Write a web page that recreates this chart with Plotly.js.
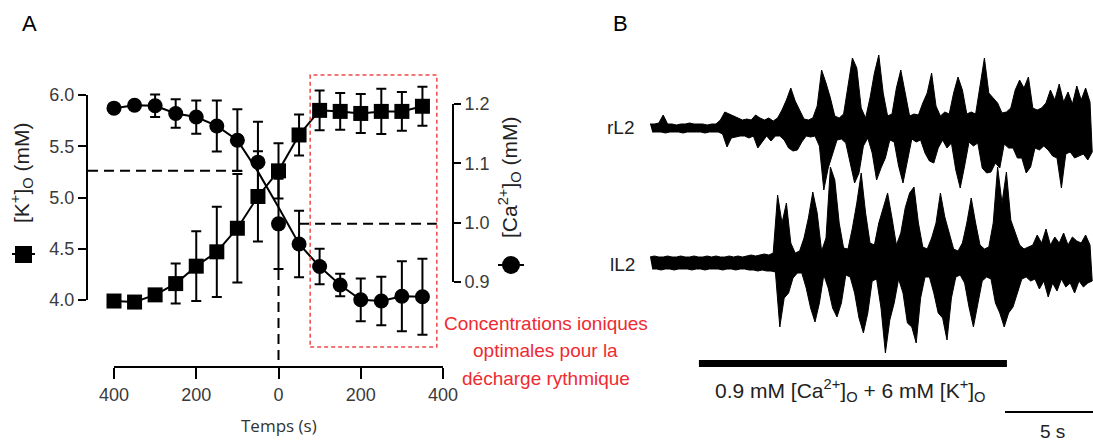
<!DOCTYPE html>
<html>
<head>
<meta charset="utf-8">
<script src="https://cdn.plot.ly/plotly-3.0.1.min.js"></script>
<style>html,body{margin:0;padding:0;background:#fff;}#chart{width:1093px;height:441px;}</style>
</head>
<body>
<div id="chart"></div>
<script>
// ---------- Panel A data ----------
const timeSec   = [-400,-350,-300,-250,-200,-150,-100,-50,0,50,100,150,200,250,300,350];
const kVals     = [3.99,3.98,4.05,4.16,4.33,4.47,4.70,5.01,5.26,5.61,5.85,5.84,5.82,5.84,5.84,5.89];
const kErr      = [0,0,0.03,0.195,0.34,0.44,0.53,0.44,0.27,0.20,0.195,0.18,0.19,0.22,0.19,0.19];
const caVals    = [1.193,1.198,1.197,1.184,1.178,1.163,1.139,1.102,0.998,0.964,0.926,0.895,0.870,0.868,0.876,0.875];
const caErr     = [0.005,0.004,0.019,0.024,0.028,0.043,0.052,0.068,0.076,0.056,0.030,0.019,0.036,0.041,0.059,0.064];
const caFit     = [1.193,1.198,1.197,1.184,1.178,1.163,1.139,1.086,1.026,0.964,0.926,0.895,0.870,0.868,0.876,0.875];
const xTickVals = [-400,-200,0,200,400];
const xTickText = ["400","200","0","200","400"];
const kTickVals = [4.0,4.5,5.0,5.5,6.0];
const kTickText = ["4.0","4.5","5.0","5.5","6.0"];
const caTickVals = [0.9,1.0,1.1,1.2];
const caTickText = ["0.9","1.0","1.1","1.2"];

// ---------- Panel B data (envelope of recordings, sampled every 0.25 s) ----------
const sampleStep = 0.25; // s
const rL2Up = [4,4,5,13,4,4,3,4,4,5,4,4,4,3,4,4,8,
  16,14,12,10, 8,9,8, 13,10, 8,10,7,10, 18,28,40,27,18, 9,8,10, 22,58,45,30, 12,10,14,
  40,70,60,20, 10, 30,55,73,35, 12,14, 40,58,35, 12,14,13, 25,35,55,22, 12,16,14,
  35,51,38, 14,16,14, 40,70,35,30,25, 15,16,20, 38,48,40,51, 20,18,20,
  25,38,28,44,26,36,24,42,28,40,26];
const rL2Lo = [4,4,4,5,4,4,4,5,4,4,4,4,5,4,4,4,6,
  19,10,9,8, 8,10,8, 20,14, 8,13,8,8, 12,20,23,22,14, 8,9,8, 18,62,40,26, 12,11,15,
  35,55,45,18, 10, 25,52,40,30, 12,14, 38,55,32, 11,14,12, 25,33,35,20, 12,20,15,
  42,60,38, 14,18,15, 40,45,44,35,40, 16,20,20, 30,30,45,39, 20,22,18,
  22,28,30,60,26,24,30,28,26,32,24];
const lL2Up = [6,7,6,6,7,6,6,7,6,6,7,6,6,7,6,7,6,6,7,6,7,6,7,8,7,8,9,8,10,
  68,40,60,20, 10,12, 25,45,71,50, 12, 25,96,83,40, 15, 14,35,60,90,50, 20,
  18,40,55,70,45, 18, 30,55,70,76,40, 16, 14,25,40,70,46,30, 14,12,20,
  40,65,40, 18,14,16, 40,96,60,91,43,30, 18,14,16,
  18,28,20,34,18,26,20,30,18,26,22,20,28,18];
const lL2Lo = [6,6,7,6,6,7,6,6,6,7,6,6,7,6,6,6,7,6,6,7,6,6,7,7,8,7,8,8,9,
  64,35,30,15, 10,10, 25,45,59,40, 12, 25,45,54,40, 12, 14,30,55,70,50, 18,
  16,45,90,57,40, 16, 30,60,64,80,35, 14, 14,30,50,55,77,35, 14,12,20,
  44,64,40, 18,14,16, 40,50,64,50,44,30, 16,14,18,
  16,26,18,34,20,28,16,24,20,30,18,24,20,18];
const stimStart = 2.78, stimEnd = 20.28;   // s, bar under traces
const scaleBarSec = 5;

// ---------- helpers ----------
const W = 1093, H = 441;
const PX = x => x / W;
const PY = y => 1 - y / H;
const FONT = "Liberation Sans, Arial, sans-serif";

// closed envelope polygon: upper edge forward, lower edge backward
function envelope(up, lo) {
  const xs = [], ys = [];
  for (let i = 0; i < up.length; i++) { xs.push(i * sampleStep); ys.push(up[i]); }
  for (let i = lo.length - 1; i >= 0; i--) { xs.push(i * sampleStep + sampleStep / 2); ys.push(-lo[i]); }
  return {xs, ys};
}
const rz = envelope(rL2Up, rL2Lo);
const lz = envelope(lL2Up, lL2Lo);

const traces = [
  {x: timeSec, y: kVals, xaxis: 'x', yaxis: 'y', mode: 'lines', line: {color: '#000', width: 2}, hoverinfo: 'skip'},
  {x: timeSec, y: caFit, xaxis: 'x', yaxis: 'y2', mode: 'lines', line: {color: '#000', width: 2}, hoverinfo: 'skip'},
  {x: timeSec, y: kVals, xaxis: 'x', yaxis: 'y', mode: 'markers', cliponaxis: false,
   marker: {symbol: 'square', size: 15, color: '#000'},
   error_y: {type: 'data', array: kErr, visible: true, color: '#000', thickness: 2, width: 5}},
  {x: timeSec, y: caVals, xaxis: 'x', yaxis: 'y2', mode: 'markers', cliponaxis: false,
   marker: {symbol: 'circle', size: 15, color: '#000'},
   error_y: {type: 'data', array: caErr, visible: true, color: '#000', thickness: 2, width: 5}},
  {x: rz.xs, y: rz.ys, xaxis: 'x3', yaxis: 'y3', mode: 'lines', fill: 'toself', fillcolor: '#000',
   line: {color: '#000', width: 1}, hoverinfo: 'skip'},
  {x: lz.xs, y: lz.ys, xaxis: 'x3', yaxis: 'y4', mode: 'lines', fill: 'toself', fillcolor: '#000',
   line: {color: '#000', width: 1}, hoverinfo: 'skip'}
];

const tickFont = {family: FONT, size: 18, color: '#3a3a3a'};
const dashBlack = {color: '#000', width: 2, dash: '10px,6px'};

function label(text, x, y, font, extra) {
  return Object.assign({text: text, x: PX(x), y: PY(y), xref: 'paper', yref: 'paper', showarrow: false,
    xanchor: 'center', yanchor: 'middle', font: font}, extra || {});
}
const black19 = {family: FONT, size: 19, color: '#222'};
const red19 = {family: FONT, size: 19, color: '#ee2a33'};

const layout = {
  width: W, height: H,
  margin: {l: 0, r: 0, t: 0, b: 0},
  paper_bgcolor: '#fff', plot_bgcolor: 'rgba(0,0,0,0)',
  showlegend: false, hovermode: false,
  xaxis: {domain: [PX(87), PX(453)], range: [-465.65, 424.32], anchor: 'y',
    tickvals: xTickVals, ticktext: xTickText, ticks: 'outside', ticklen: 11, tickwidth: 2, tickcolor: '#000',
    showline: false, showgrid: false, zeroline: false, tickfont: tickFont, fixedrange: true},
  yaxis: {domain: [PY(367), PY(70)], range: [3.3463, 6.2439], anchor: 'x',
    tickvals: kTickVals, ticktext: kTickText, ticks: 'outside', ticklen: 8, tickwidth: 2, tickcolor: '#000',
    showline: false, showgrid: false, zeroline: false, tickfont: tickFont, fixedrange: true},
  yaxis2: {overlaying: 'y', side: 'right', anchor: 'x', range: [0.7567, 1.2573],
    tickvals: caTickVals, ticktext: caTickText, ticks: 'outside', ticklen: 7, tickwidth: 2, tickcolor: '#000',
    showline: false, showgrid: false, zeroline: false, tickfont: tickFont, fixedrange: true},
  xaxis3: {domain: [PX(650), 1], range: [0, 25.17], anchor: 'y3', visible: false, fixedrange: true},
  yaxis3: {domain: [PY(226), PY(30)], range: [-98, 98], anchor: 'x3', visible: false, fixedrange: true},
  yaxis4: {domain: [PY(366), PY(160)], range: [-103, 103], anchor: 'x3', visible: false, fixedrange: true},
  shapes: [
    {type: 'line', xref: 'paper', yref: 'y', x0: PX(87), x1: PX(87), y0: 4.0, y1: 6.0, line: {color: '#000', width: 2}},
    {type: 'line', xref: 'paper', yref: 'y2', x0: PX(453), x1: PX(453), y0: 0.9, y1: 1.2, line: {color: '#000', width: 2}},
    {type: 'line', xref: 'x', yref: 'paper', x0: -400, x1: 400, y0: PY(367), y1: PY(367), line: {color: '#000', width: 2}},
    {type: 'line', xref: 'paper', yref: 'y', x0: PX(88), x1: PX(243), y0: kVals[8], y1: kVals[8], line: dashBlack},
    {type: 'line', xref: 'x', yref: 'y2', x0: 50, x1: 385, y0: caVals[8], y1: caVals[8], line: dashBlack},
    {type: 'line', xref: 'x', yref: 'paper', x0: 0, x1: 0, y0: PY(360), y1: PY(270), line: dashBlack},
    {type: 'rect', xref: 'x', yref: 'paper', x0: 77, x1: 385, y0: PY(347), y1: PY(75),
     line: {color: '#f04848', width: 1.5, dash: '4px,3px'}},
    {type: 'line', xref: 'paper', yref: 'paper', x0: PX(12), x1: PX(35), y0: PY(254), y1: PY(254), line: {color: '#000', width: 2}},
    {type: 'rect', xref: 'paper', yref: 'paper', x0: PX(15), x1: PX(32), y0: PY(263), y1: PY(246), fillcolor: '#000', line: {width: 0}},
    {type: 'line', xref: 'paper', yref: 'paper', x0: PX(498), x1: PX(524), y0: PY(265), y1: PY(265), line: {color: '#000', width: 2}},
    {type: 'circle', xref: 'paper', yref: 'paper', x0: PX(502), x1: PX(520), y0: PY(274), y1: PY(256), fillcolor: '#000', line: {width: 0}},
    {type: 'rect', xref: 'x3', yref: 'paper', x0: stimStart, x1: stimEnd, y0: PY(367), y1: PY(360), fillcolor: '#000', line: {width: 0}},
    {type: 'line', xref: 'x3', yref: 'paper', x0: 25.17 - scaleBarSec, x1: 25.17, y0: PY(412), y1: PY(412), line: {color: '#000', width: 2}}
  ],
  annotations: [
    label('A', 29, 23, {family: FONT, size: 22, color: '#000'}),
    label('B', 620, 23, {family: FONT, size: 22, color: '#000'}),
    label('[K<sup>+</sup>]<sub>O</sub> (mM)', 21, 173, {family: FONT, size: 21, color: '#222'}, {textangle: -90}),
    label('[Ca<sup>2+</sup>]<sub>O</sub> (mM)', 509, 177, {family: FONT, size: 21, color: '#222'}, {textangle: -90}),
    label('Temps (s)', 279, 425, {family: 'Open Sans, sans-serif', size: 17, color: '#333'}),
    label('Concentrations ioniques', 546, 323, red19),
    label('optimales pour la', 545, 350, red19),
    label('décharge rythmique', 546, 378, red19),
    label('rL2', 620, 128, black19),
    label('lL2', 622, 264, black19),
    label('0.9 mM [Ca<sup>2+</sup>]<sub>O</sub> + 6 mM [K<sup>+</sup>]<sub>O</sub>', 850, 390, {family: FONT, size: 21, color: '#222'}),
    label('5 s', 1052, 431, black19)
  ]
};

Plotly.newPlot('chart', traces, layout, {staticPlot: true, displayModeBar: false});
</script>
</body>
</html>
